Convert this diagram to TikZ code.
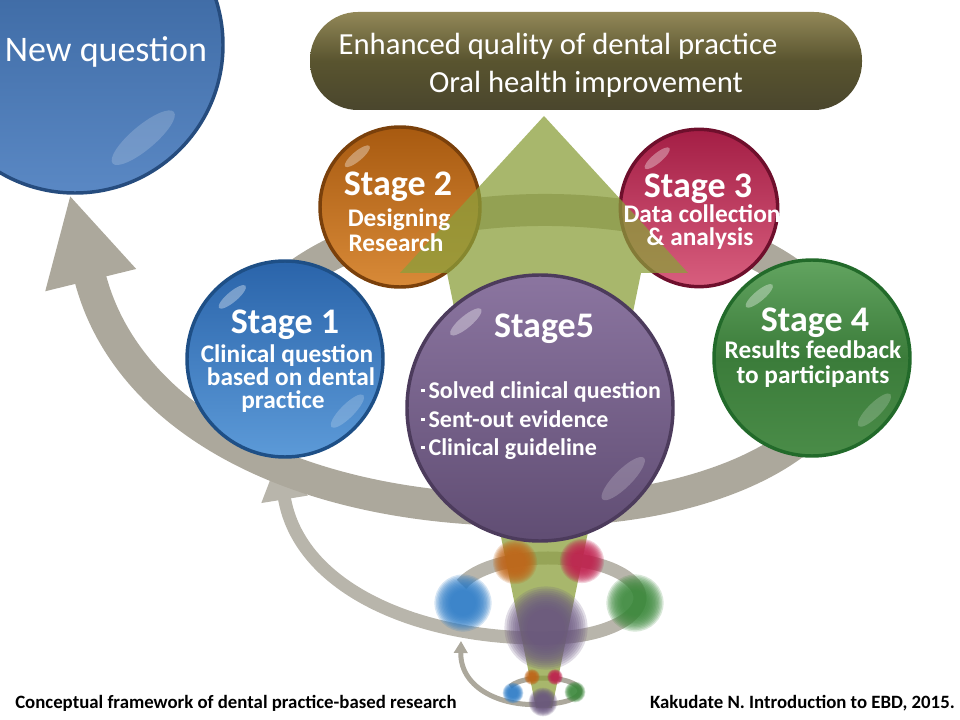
\documentclass[tikz,border=0pt]{standalone}
\usepackage{fontspec}
\setmainfont{Carlito}
\usetikzlibrary{arrows.meta,shapes.geometric}

\definecolor{bandgray}{HTML}{ACA89C}
\definecolor{shaftgreen}{HTML}{8B9F3B}
\definecolor{qbluetop}{HTML}{335F98}
\definecolor{qbluebot}{HTML}{5A88C4}
\definecolor{qblueln}{HTML}{264C7E}
\definecolor{sonetop}{HTML}{2A64AA}
\definecolor{sonebot}{HTML}{5C9AD8}
\definecolor{soneln}{HTML}{1E4F86}
\definecolor{stwotop}{HTML}{A85A10}
\definecolor{stwobot}{HTML}{D88A38}
\definecolor{stwoln}{HTML}{7A400B}
\definecolor{sthrtop}{HTML}{A41E45}
\definecolor{sthrbot}{HTML}{D85E7E}
\definecolor{sthrln}{HTML}{6E0F2C}
\definecolor{sfourtop}{HTML}{62A460}
\definecolor{sfourmid}{HTML}{3B7C3A}
\definecolor{sfourbot}{HTML}{4A8C48}
\definecolor{sfourln}{HTML}{226A2A}
\definecolor{sfivetop}{HTML}{8B75A0}
\definecolor{sfivebot}{HTML}{604D73}
\definecolor{sfiveln}{HTML}{4C3B5C}
\definecolor{goaltop}{HTML}{928858}
\definecolor{goalmid}{HTML}{59542F}
\definecolor{goalbot}{HTML}{4A462D}
\definecolor{blobone}{HTML}{2E7CC6}
\definecolor{blobtwo}{HTML}{C0671A}
\definecolor{blobthree}{HTML}{C02350}
\definecolor{blobfour}{HTML}{3E8A3E}
\definecolor{blobfive}{HTML}{6A5780}

\pgfdeclarelayer{back}
\pgfsetlayers{back,main}

% blurred spot: x, y, radius, colour
\newcommand{\blob}[4]{%
  \foreach \k in {0,...,11}{\fill[#4, opacity=.2] (#1,#2) circle[radius={#3*(1.3-0.065*\k)}];}}

\begin{document}
\begin{tikzpicture}[x=0.75pt, y=-0.75pt,
  ball/.style={circle, line width=2.6pt, inner sep=0pt},
  gloss/.style={ellipse, fill=white, opacity=.35, inner sep=0pt, minimum width=#1, minimum height=0.3*#1},
  band/.style={draw=bandgray},
  qtext/.style={text=white, font=\fontsize{27}{27}\selectfont, anchor=base, inner sep=0pt},
  goaltext/.style={text=white, font=\fontsize{23}{23}\selectfont, anchor=base, inner sep=0pt},
  title/.style={text=white, font=\bfseries\fontsize{27}{27}\selectfont, anchor=base, inner sep=0pt},
  sub/.style={text=white, font=\bfseries\fontsize{19}{19}\selectfont, anchor=base, inner sep=0pt},
  item/.style={text=white, font=\bfseries\fontsize{18}{18}\selectfont, anchor=base west, inner sep=0pt},
  foot/.style={text=black, font=\bfseries\fontsize{14.1}{14.1}\selectfont, inner sep=0pt}]
\useasboundingbox (0,0) rectangle (960,720);
\clip (0,0) rectangle (960,720);

% Balls
\node[ball, minimum size=222pt, top color=qbluetop, bottom color=qbluebot, draw=qblueln] (nq) at (75,45) {};
\node[ball, minimum size=147pt, top color=sonetop, bottom color=sonebot, draw=soneln] (s1) at (285,359) {};
\node[ball, minimum size=120pt, top color=stwotop, bottom color=stwobot, draw=stwoln] (s2) at (400,207) {};
\node[ball, minimum size=118pt, top color=sthrtop, bottom color=sthrbot, draw=sthrln] (s3) at (699,208) {};
\node[ball, minimum size=147pt, top color=sfourtop, bottom color=sfourbot, middle color=sfourmid, draw=sfourln] (s4) at (812,358) {};

% Cycles
\coordinate (midtip) at (461,641);
\begin{pgfonlayer}{back}
\draw[band, line width=24pt, -{Triangle[length=66pt,width=65pt]}]
  (545,360) ++(200:300 and 150) arc[start angle=200, end angle=450, x radius=300, y radius=150]
  .. controls (300,515) and (125,420) .. (nq.268);
\begin{scope}[transparency group, opacity=.85]
\draw[band, line width=9.75pt, -{Triangle[length=31pt,width=33pt]}]
  (548,598) ++(200:92 and 40) arc[start angle=200, end angle=450, x radius=92, y radius=40]
  .. controls (420,640) and (299,589) .. (s1.266);
\end{scope}
\draw[band, line width=3.75pt, -{Triangle[length=9pt,width=10pt]}]
  (544,691) ++(200:36 and 13) arc[start angle=200, end angle=450, x radius=36, y radius=13]
  .. controls (505,708) and (460,690) .. (midtip);
\end{pgfonlayer}

% Gloss
\node[gloss=60pt, opacity=.18, rotate=40] (nqg) at ([shift={(-28,-22)}]nq.-50) {};
\node[gloss=26pt, rotate=40] (s1g) at ([shift={(14,12)}]s1.132) {};
\node[gloss=34pt, opacity=.2, rotate=45] (s1h) at ([shift={(-14,-12)}]s1.-40) {};
\node[gloss=24pt, rotate=40] (s2g) at ([shift={(12,10)}]s2.132) {};
\node[gloss=24pt, rotate=40] (s3g) at ([shift={(12,10)}]s3.132) {};
\node[gloss=26pt, rotate=40] (s4g) at ([shift={(14,12)}]s4.132) {};
\node[gloss=34pt, opacity=.2, rotate=45] (s4h) at ([shift={(-14,-12)}]s4.-40) {};

% Up arrow
\fill[shaftgreen, opacity=.75] (544,116) -- (688,273) -- (641,273) -- (552,708) -- (536,708)
  -- (447,273) -- (400,273) -- cycle;

% Stage 5
\node[ball, minimum size=199.5pt, top color=sfivetop, bottom color=sfivebot, draw=sfiveln] (s5) at (540,408) {};
\node[gloss=30pt, rotate=40] (s5g) at ([shift={(16,14)}]s5.132) {};
\node[gloss=44pt, opacity=.2, rotate=45] (s5h) at ([shift={(-20,-16)}]s5.-40) {};

% Spots
\blob{515}{562}{17}{blobtwo}
\blob{582}{561}{17}{blobthree}
\blob{463}{603}{22}{blobone}
\blob{635}{603}{22}{blobfour}
\blob{546}{628}{32}{blobfive}
\blob{532}{677}{6}{blobtwo}
\blob{555}{677}{6}{blobthree}
\blob{513}{693}{8}{blobone}
\blob{575}{692}{8}{blobfour}
\blob{543}{702}{11}{blobfive}

% Goal
\node[rectangle, rounded corners=36pt, minimum width=414pt, minimum height=73.5pt,
  top color=goaltop, bottom color=goalbot, middle color=goalmid] (goal) at (586,61) {};

% Labels
\node[qtext] (nqa) at (106,62) {New question};
\node[goaltext] (goala) at (558,55) {Enhanced quality of dental practice};
\node[goaltext] (goalb) at (586,93) {Oral health improvement};
\node[title] (s1t) at (285,333) {Stage 1};
\node[sub] (s1a) at (287,362) {Clinical question};
\node[sub] (s1b) at (291,385) {based on dental};
\node[sub] (s1c) at (283,408) {practice};
\node[title] (s2t) at (398,196) {Stage 2};
\node[sub] (s2a) at (399,227) {Designing};
\node[sub] (s2b) at (396,252) {Research};
\node[title] (s3t) at (698,198) {Stage 3};
\node[sub] (s3a) at (702,223) {Data collection};
\node[sub] (s3b) at (700,246) {\& analysis};
\node[title] (s4t) at (815,331) {Stage 4};
\node[sub] (s4a) at (813,358) {Results feedback};
\node[sub] (s4b) at (813,383) {to participants};
\node[title] (s5t) at (544,337) {Stage5};
\node[item] (s5a) at (421,398) {\raisebox{0.5ex}{\rule{2.5pt}{2.5pt}}\,Solved clinical question};
\node[item] (s5b) at (421,427) {\raisebox{0.5ex}{\rule{2.5pt}{2.5pt}}\,Sent-out evidence};
\node[item] (s5c) at (421,455) {\raisebox{0.5ex}{\rule{2.5pt}{2.5pt}}\,Clinical guideline};
\node[foot, anchor=base west] (caption) at (15,708) {Conceptual framework of dental practice-based research};
\node[foot, anchor=base east] (source) at (955,708) {Kakudate N. Introduction to EBD, 2015.};

\end{tikzpicture}
\end{document}
